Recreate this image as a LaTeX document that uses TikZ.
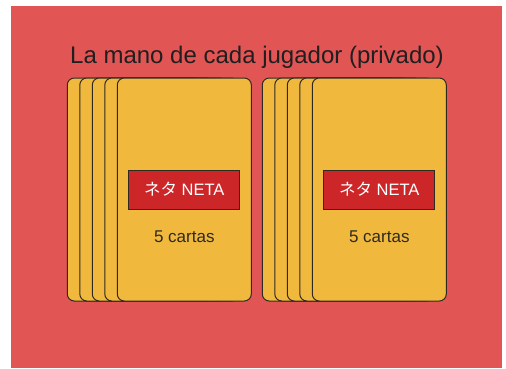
\documentclass[tikz,border=0pt]{standalone}
\usepackage{fontspec}
\setmainfont{Liberation Sans}
\newfontfamily\jpfont{Noto Sans CJK JP}
\usetikzlibrary{positioning}
\definecolor{fondo}{HTML}{E15554}
\definecolor{amarillo}{HTML}{F0B93D}
\definecolor{rojoneta}{HTML}{CD2629}
\definecolor{borde}{HTML}{2E2A22}
\tikzset{
  carta/.style={draw=borde, fill=amarillo, line width=1pt, rounded corners=7pt,
    minimum width=134pt, minimum height=223pt, inner sep=0pt, outer sep=0pt},
  neta/.style={draw=borde, fill=rojoneta, line width=0.8pt, text=white,
    minimum width=111pt, minimum height=39pt, inner sep=0pt,
    font=\fontsize{16.5}{18}\selectfont},
  cuenta/.style={text=borde, font=\fontsize{17}{19}\selectfont},
  titulo/.style={text=black!88, font=\fontsize{24}{27}\selectfont}
}
\begin{document}
\begin{tikzpicture}[x=1pt,y=-1pt]
  \useasboundingbox (0,0) rectangle (506,368);
  \fill[fondo] (11,6) rectangle (502,368);
  \node[titulo, anchor=base] (titulo) at (257,63.3) {La mano de cada jugador (privado)};
  % two hands, five cards each
  \foreach \g/\dx in {izq/0, der/195} {
    \foreach \k in {0,...,4} {
      \node[carta] (\g-\k) at (134.3+\dx+12.5*\k, 189.5) {};
    }
    \node[neta] (\g-neta) at (\g-4.center) {{\jpfont ネタ} NETA};
    \node[cuenta, anchor=base] (\g-cuenta) at ([yshift=-53pt]\g-4.center) {5 cartas};
  }
\end{tikzpicture}
\end{document}
